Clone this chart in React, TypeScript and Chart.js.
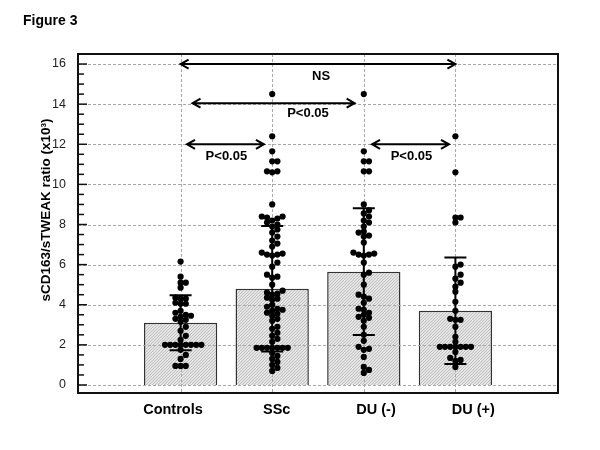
import React, { useEffect, useRef } from "react";
import { Chart, registerables } from "chart.js";
Chart.register(...registerables);

// ---------- data ----------
const categories = ["Controls", "SSc", "DU (-)", "DU (+)"];
const means = [3.1, 4.8, 5.65, 3.7];
const sds = [1.37, 3.13, 3.16, 2.66];

const controls = [6.15, 5.4, 5.1, 5.1, 4.85, 4.35, 4.3, 4.3, 4.1, 4.05, 4.05, 3.7, 3.6, 3.5, 3.45, 3.4, 3.3, 3.25, 3.15, 2.9, 2.7, 2.45, 2.25, 2.0, 2.0, 2.0, 2.0, 2.0, 2.0, 2.0, 2.0, 1.75, 1.5, 1.3, 0.95, 0.95, 0.95];
const ssc = [14.5, 12.4, 11.65, 11.15, 11.15, 10.65, 10.65, 10.6, 9.0, 8.4, 8.4, 8.35, 8.3, 8.2, 8.1, 8.0, 7.9, 7.75, 7.6, 7.4, 7.2, 7.05, 6.9, 6.6, 6.55, 6.5, 6.5, 6.45, 6.1, 5.9, 5.5, 5.4, 5.35, 5.0, 4.7, 4.6, 4.55, 4.5, 4.35, 4.3, 4.25, 4.0, 3.9, 3.8, 3.75, 3.7, 3.6, 3.55, 3.45, 3.3, 3.2, 2.9, 2.8, 2.6, 2.45, 2.3, 2.15, 1.85, 1.85, 1.85, 1.85, 1.85, 1.85, 1.85, 1.6, 1.45, 1.3, 1.15, 1.0, 0.85, 0.7];
const duNeg = [14.5, 11.65, 11.15, 11.15, 10.65, 10.65, 9.0, 8.7, 8.55, 8.4, 8.2, 8.1, 7.9, 7.65, 7.6, 7.45, 7.4, 7.1, 6.6, 6.55, 6.5, 6.5, 6.45, 6.1, 5.6, 5.5, 5.0, 4.5, 4.4, 4.3, 4.1, 3.8, 3.75, 3.6, 3.5, 3.4, 3.35, 3.2, 2.9, 2.5, 2.2, 1.9, 1.8, 1.75, 1.4, 0.9, 0.75, 0.6];
const duPos = [12.4, 10.6, 8.35, 8.35, 8.1, 6.0, 5.9, 5.5, 5.3, 5.1, 4.9, 4.65, 4.15, 3.7, 3.3, 3.25, 3.25, 2.9, 2.4, 2.15, 1.9, 1.9, 1.9, 1.9, 1.9, 1.9, 1.9, 1.65, 1.35, 1.25, 1.2, 0.9];
const groups = [controls, ssc, duNeg, duPos];

const yTicks = [0, 2, 4, 6, 8, 10, 12, 14, 16];

const comparisonLabels = ["NS", "P<0.05", "P<0.05", "P<0.05"];
const comparisonFrom = [1, 1.13, 1.07, 3.09];
const comparisonTo = [4, 2.9, 1.91, 3.93];
const comparisonY = [16, 14.05, 12, 12];

const yTitle = "sCD163/sTWEAK ratio (x10³)";
const figureTitle = "Figure 3";

// ---------- layout ----------
const W = 600, H = 450;
const AREA = { left: 78, top: 54, right: 558, bottom: 393 };
const X_MIN = -0.12, X_MAX = 5.12, Y_MIN = -0.4, Y_MAX = 16.5;
const XPX = (AREA.right - AREA.left) / (X_MAX - X_MIN);
const YPX = (AREA.bottom - AREA.top) / (Y_MAX - Y_MIN);
const labelPos = [
  { x: 2.534, y: 15.4 },
  { x: 2.39, y: 13.56 },
  { x: 1.5, y: 11.37 },
  { x: 3.52, y: 11.37 },
];
const xLabelPos = [0.917, 2.049, 3.133, 4.195];
const FONT = "'Liberation Sans', Arial, Helvetica, sans-serif";

function swarm(vals: number[], cat: number) {
  const placed: { x: number; y: number }[] = [];
  const d = 5.0, s = 5.2;
  const sorted = [...vals].sort((a, b) => a - b);
  const out: { x: number; y: number }[] = [];
  sorted.forEach((v) => {
    const py = v * YPX;
    for (let k = 0; k < 80; k++) {
      const m = k === 0 ? 0 : k % 2 ? Math.ceil(k / 2) : -k / 2;
      const px = m * s;
      if (placed.every((p) => (p.x - px) ** 2 + (p.y - py) ** 2 >= d * d)) {
        placed.push({ x: px, y: py });
        out.push({ x: cat + px / XPX, y: v });
        return;
      }
    }
  });
  return out;
}

function arrow(ctx: CanvasRenderingContext2D, x1: number, x2: number, y: number) {
  const L = 8, h = 4.5;
  ctx.beginPath();
  ctx.moveTo(x1, y);
  ctx.lineTo(x2, y);
  ctx.moveTo(x1 + L, y - h);
  ctx.lineTo(x1, y);
  ctx.lineTo(x1 + L, y + h);
  ctx.moveTo(x2 - L, y - h);
  ctx.lineTo(x2, y);
  ctx.lineTo(x2 - L, y + h);
  ctx.stroke();
}

const figPlugin = {
  id: "figPlugin",
  afterDatasetDraw(chart: any, args: any) {
    if (args.meta.type !== "bar") return;
    const { ctx, chartArea: a, scales } = chart;
    const x = scales.x, y = scales.y;
    ctx.save();
    ctx.strokeStyle = "#a8a8a8";
    ctx.lineWidth = 1;
    ctx.setLineDash([3, 2]);
    yTicks.forEach((v) => {
      const py = Math.round(y.getPixelForValue(v)) + 0.5;
      ctx.beginPath();
      ctx.moveTo(a.left, py);
      ctx.lineTo(a.right, py);
      ctx.stroke();
    });
    categories.forEach((_, i) => {
      const px = Math.round(x.getPixelForValue(i + 1)) + 0.5;
      ctx.beginPath();
      ctx.moveTo(px, a.top);
      ctx.lineTo(px, a.bottom);
      ctx.stroke();
    });
    ctx.setLineDash([]);
    // error bars
    ctx.strokeStyle = "#000";
    ctx.lineWidth = 2;
    means.forEach((m, i) => {
      const px = x.getPixelForValue(i + 1);
      const hi = y.getPixelForValue(m + sds[i]);
      const lo = y.getPixelForValue(m - sds[i]);
      ctx.beginPath();
      ctx.moveTo(px, hi);
      ctx.lineTo(px, lo);
      ctx.moveTo(px - 11, hi);
      ctx.lineTo(px + 11, hi);
      ctx.moveTo(px - 11, lo);
      ctx.lineTo(px + 11, lo);
      ctx.stroke();
    });
    ctx.restore();
  },
  afterDraw(chart: any) {
    const { ctx, chartArea: a, scales } = chart;
    const x = scales.x, y = scales.y;
    ctx.save();
    // frame
    ctx.strokeStyle = "#111";
    ctx.lineWidth = 2;
    ctx.strokeRect(a.left, a.top, a.right - a.left, a.bottom - a.top);
    // inward ticks
    ctx.lineWidth = 1.5;
    for (let v = 0; v <= 16.001; v += 0.5) {
      const py = y.getPixelForValue(v);
      const major = Math.abs(v % 2) < 1e-6;
      ctx.beginPath();
      ctx.moveTo(a.left, py);
      ctx.lineTo(a.left + (major ? 9 : 6), py);
      ctx.stroke();
    }
    // comparison arrows
    ctx.strokeStyle = "#000";
    ctx.lineWidth = 2;
    comparisonLabels.forEach((lab, i) => {
      arrow(ctx, x.getPixelForValue(comparisonFrom[i]), x.getPixelForValue(comparisonTo[i]), y.getPixelForValue(comparisonY[i]));
      ctx.fillStyle = "#000";
      ctx.font = `bold 13px ${FONT}`;
      ctx.textAlign = "center";
      ctx.textBaseline = "middle";
      ctx.fillText(lab, x.getPixelForValue(labelPos[i].x), y.getPixelForValue(labelPos[i].y));
    });
    // x labels
    ctx.font = `bold 14.5px ${FONT}`;
    ctx.textAlign = "center";
    ctx.textBaseline = "alphabetic";
    categories.forEach((c, i) => {
      ctx.fillText(c, x.getPixelForValue(xLabelPos[i]), 414);
    });
    // y title
    ctx.save();
    ctx.translate(46, 210);
    ctx.rotate(-Math.PI / 2);
    ctx.font = `bold 13.5px ${FONT}`;
    ctx.textAlign = "center";
    ctx.textBaseline = "middle";
    ctx.fillText(yTitle, 0, 0);
    ctx.restore();
    // figure label
    ctx.font = `bold 14px ${FONT}`;
    ctx.textAlign = "left";
    ctx.textBaseline = "alphabetic";
    ctx.fillText(figureTitle, 23, 25);
    ctx.restore();
  },
};

export default function App() {
  const ref = useRef<HTMLCanvasElement | null>(null);
  useEffect(() => {
    const canvas = ref.current!;
    const c2d = canvas.getContext("2d")!;
    const tile = document.createElement("canvas");
    tile.width = 3;
    tile.height = 3;
    const t = tile.getContext("2d")!;
    t.fillStyle = "#e6e6e6";
    t.fillRect(0, 0, 3, 3);
    t.fillStyle = "#bdbdbd";
    for (let i = 0; i < 3; i++) t.fillRect(i, 2 - i, 1, 1);
    const pattern = c2d.createPattern(tile, "repeat");

    const points: { x: number; y: number }[] = [];
    groups.forEach((g, i) => points.push(...swarm(g, i + 1)));

    const chart = new Chart(canvas, {
      type: "bar",
      data: {
        datasets: [
          {
            type: "scatter",
            data: points,
            pointRadius: 3.1,
            pointHoverRadius: 3.1,
            backgroundColor: "#000",
            borderWidth: 0,
          } as any,
          {
            type: "bar",
            data: means.map((m, i) => ({ x: i + 1, y: m })),
            backgroundColor: pattern as any,
            borderColor: "#333",
            borderWidth: 1.5,
            barPercentage: 0.8,
            categoryPercentage: 1,
          } as any,
        ],
      },
      options: {
        responsive: false,
        animation: false,
        devicePixelRatio: 1,
        layout: { padding: { left: 8, right: W - AREA.right, top: AREA.top, bottom: H - AREA.bottom } },
        plugins: { legend: { display: false }, tooltip: { enabled: false } },
        events: [],
        scales: {
          x: { type: "linear", min: X_MIN, max: X_MAX, offset: false, display: false },
          y: {
            type: "linear",
            min: Y_MIN,
            max: Y_MAX,
            grid: { display: false },
            border: { display: false },
            afterBuildTicks: (s: any) => {
              s.ticks = yTicks.map((v) => ({ value: v }));
            },
            afterFit: (s: any) => {
              s.width = AREA.left - 8;
            },
            ticks: {
              color: "#222",
              padding: 4,
              font: { family: FONT, size: 12.5 },
            },
          },
        },
      } as any,
      plugins: [figPlugin],
    });
    return () => chart.destroy();
  }, []);
  return (
    <div style={{ position: "absolute", left: 0, top: 0, width: W, height: H, background: "#fff" }}>
      <canvas ref={ref} width={W} height={H} />
    </div>
  );
}
